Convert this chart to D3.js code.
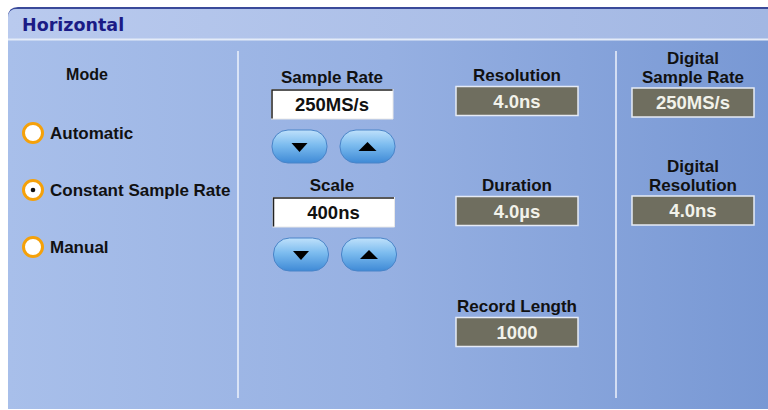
<!DOCTYPE html>
<html><head><meta charset="utf-8">
<script src="https://cdn.jsdelivr.net/npm/d3@7"></script>
<style>html,body{margin:0;padding:0;background:#fff;overflow:hidden}</style>
</head><body>
<svg id="c" width="768" height="410"></svg>
<script>
const title = "Horizontal";
const modeLabel = "Mode";
const modes = ["Automatic", "Constant Sample Rate", "Manual"];
const selectedMode = 1;
const inputLabels = ["Sample Rate", "Scale"];
const inputValues = ["250MS/s", "400ns"];
const readoutLabels = [["Resolution"], ["Duration"], ["Record Length"]];
const readoutValues = ["4.0ns", "4.0µs", "1000"];
const digitalLabels = [["Digital", "Sample Rate"], ["Digital", "Resolution"]];
const digitalValues = ["250MS/s", "4.0ns"];

const svg = d3.select("#c");
const font = "'Liberation Sans', Arial, sans-serif";
const defs = svg.append("defs");

const bg = defs.append("linearGradient").attr("id","bg").attr("x1",0).attr("x2",1).attr("y1",0).attr("y2",0);
bg.append("stop").attr("offset",0).attr("stop-color","#a8bfea");
bg.append("stop").attr("offset",0.5).attr("stop-color","#96b0e2");
bg.append("stop").attr("offset",1).attr("stop-color","#7898d4");
const tb = defs.append("linearGradient").attr("id","tb").attr("x1",0).attr("x2",1).attr("y1",0).attr("y2",0);
tb.append("stop").attr("offset",0).attr("stop-color","#b9caee");
tb.append("stop").attr("offset",1).attr("stop-color","#a2b7e3");
const bt = defs.append("linearGradient").attr("id","bt").attr("x1",0).attr("x2",0).attr("y1",0).attr("y2",1);
bt.append("stop").attr("offset",0).attr("stop-color","#bfe1fb");
bt.append("stop").attr("offset",0.45).attr("stop-color","#7cbcef");
bt.append("stop").attr("offset",1).attr("stop-color","#3f8ad6");

// panel
svg.append("path").attr("d","M8,409 L8,17 Q8,7 18,7 L768,7 L768,409 Z").attr("fill","#3a4a9a");
svg.append("path").attr("d","M8,409 L8,18 Q8,9 17,9 L768,9 L768,409 Z").attr("fill","url(#bg)");
svg.append("path").attr("d","M8,39 L8,18 Q8,9 17,9 L768,9 L768,39 Z").attr("fill","url(#tb)");
svg.append("rect").attr("x",8).attr("y",38.5).attr("width",760).attr("height",2).attr("fill","#e4ebf8");
svg.append("text").attr("x",22).attr("y",31).text(title)
  .attr("font-family","'DejaVu Sans', Verdana, sans-serif").attr("font-weight","bold").attr("font-size",17.5).attr("fill","#1b1b86");

// separators
const seps = [238, 616];
svg.selectAll("line.sep").data(seps).join("line").attr("class","sep")
  .attr("x1",d=>d).attr("x2",d=>d).attr("y1",51).attr("y2",398)
  .attr("stroke","#eef2fb").attr("stroke-width",1.5);

const lbl = (x,y,t,size=17) => svg.append("text").attr("x",x).attr("y",y).text(t)
  .attr("text-anchor","middle").attr("font-family",font).attr("font-weight","bold")
  .attr("font-size",size).attr("fill","#111");

// mode
lbl(87,80,modeLabel,16);
const my = d3.scalePoint().domain(modes).range([133,247]);
const mg = svg.selectAll("g.mode").data(modes).join("g").attr("class","mode")
  .attr("transform",d=>`translate(33,${my(d)})`);
mg.append("circle").attr("r",9.5).attr("fill","#fff").attr("stroke","#f5a10a").attr("stroke-width",3);
mg.filter((d,i)=>i===selectedMode).append("circle").attr("r",2.3).attr("fill","#111");
mg.append("text").attr("x",17).attr("y",6).text(d=>d).attr("font-family",font)
  .attr("font-weight","bold").attr("font-size",17).attr("fill","#111");

// inputs
const iy = d3.scalePoint().domain(inputLabels).range([77,185]);
inputLabels.forEach((l,i)=>{
  const y = iy(l);
  lbl(332,y+6,l);
  const bx = 271+i*1.5, by = y+12;
  svg.append("rect").attr("x",bx).attr("y",by).attr("width",122).attr("height",30).attr("fill","#fff");
  svg.append("path").attr("d",`M${bx+1},${by+30} L${bx+1},${by+1} L${bx+122},${by+1}`).attr("fill","none").attr("stroke","#222").attr("stroke-width",1.5);
  svg.append("path").attr("d",`M${bx},${by+30} L${bx+122},${by+30} L${bx+122},${by}`).attr("fill","none").attr("stroke","#e8e8e8").attr("stroke-width",1);
  svg.append("text").attr("x",bx+61).attr("y",by+22).text(inputValues[i]).attr("text-anchor","middle")
    .attr("font-family",font).attr("font-weight","bold").attr("font-size",18.5).attr("fill","#111");
  [0,1].forEach(k=>{
    const x0 = bx+1+k*68, y0 = by+41;
    svg.append("rect").attr("x",x0).attr("y",y0).attr("width",55).attr("height",33).attr("rx",16).attr("ry",16)
      .attr("fill","url(#bt)").attr("stroke","#4a84c8").attr("stroke-width",1);
    const cx = x0+27.5, cy = y0+17;
    const p = k===0 ? `M${cx-8},${cy-4} L${cx+8},${cy-4} L${cx},${cy+5} Z` : `M${cx-9},${cy+4} L${cx+9},${cy+4} L${cx},${cy-5} Z`;
    svg.append("path").attr("d",p).attr("fill","#000");
  });
});

// readouts
const readout = (cx,y,v) => {
  svg.append("rect").attr("x",cx-61).attr("y",y).attr("width",122).attr("height",29)
    .attr("fill","#6f6e5f").attr("stroke","#e6ebf5").attr("stroke-width",1.5);
  svg.append("text").attr("x",cx).attr("y",y+21).text(v).attr("text-anchor","middle")
    .attr("font-family",font).attr("font-weight","bold").attr("font-size",18.5).attr("fill","#f2f2ea");
};
const ry = [75,185,306];
readoutLabels.forEach((l,i)=>{ lbl(517,ry[i]+6,l[0]); readout(517,ry[i]+11.5,readoutValues[i]); });
const dy = [77,185];
digitalLabels.forEach((l,i)=>{
  lbl(693,dy[i]-13,l[0]); lbl(693,dy[i]+6,l[1]); readout(693,dy[i]+11,digitalValues[i]);
});
</script>
</body></html>
